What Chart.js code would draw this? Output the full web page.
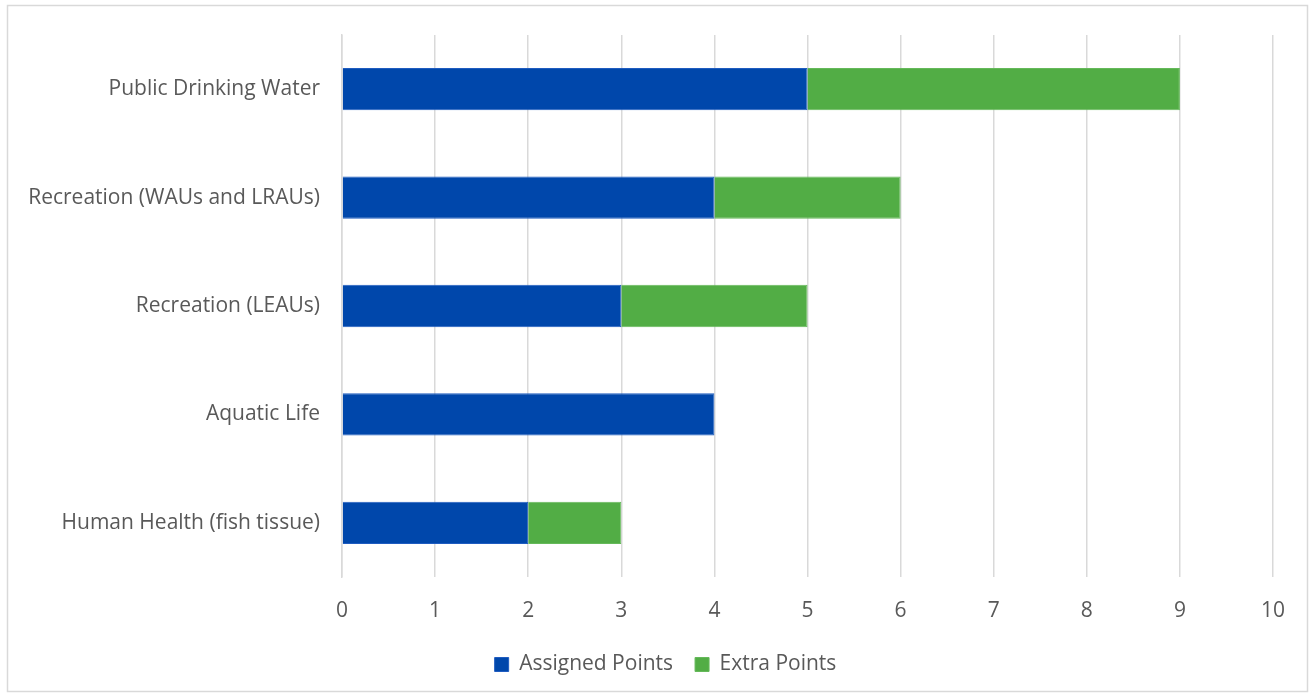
<!DOCTYPE html>
<html lang="en">
<head>
<meta charset="UTF-8" />
<title>Points by Use</title>
<script src="https://cdn.jsdelivr.net/npm/chart.js"></script>
<style>
  body { margin: 0; background: #fff; }
  #wrap { position: relative; width: 1310px; height: 696px; }
</style>
</head>
<body>
<div id="wrap"><canvas id="chart"></canvas></div>
<script>
const categories = [
  "Public Drinking Water",
  "Recreation (WAUs and LRAUs)",
  "Recreation (LEAUs)",
  "Aquatic Life",
  "Human Health (fish tissue)"
];
const assignedPoints = [5, 4, 3, 4, 2];
const extraPoints = [4, 2, 2, 0, 1];

const textColor = "#595959";
const font = { family: "'Open Sans', sans-serif", size: 21 };

// light grey frame round the whole chart
const framePlugin = {
  id: "frame",
  beforeDraw(chart) {
    const c = chart.ctx;
    c.save();
    c.strokeStyle = "#d9d9d9";
    c.lineWidth = 1.5;
    c.strokeRect(7.5, 5.5, 1300, 686);
    c.restore();
  }
};

// legend sits centred on the whole frame, not on the padded box
const legendShift = {
  id: "legendShift",
  afterLayout(chart) {
    if (chart.legend) {
      chart.legend.left += 29;
      chart.legend.right += 29;
    }
  }
};

new Chart(document.getElementById("chart"), {
  type: "bar",
  data: {
    labels: categories,
    datasets: [
      {
        label: "Assigned Points",
        data: assignedPoints,
        backgroundColor: "#0047ab",
        borderColor: "#1f5cc0",
        borderWidth: 1,
        barPercentage: 0.39,
        categoryPercentage: 1
      },
      {
        label: "Extra Points",
        data: extraPoints,
        backgroundColor: "#52ad45",
        borderColor: "#65b95a",
        borderWidth: 1,
        barPercentage: 0.39,
        categoryPercentage: 1
      }
    ]
  },
  options: {
    indexAxis: "y",
    responsive: true,
    maintainAspectRatio: false,
    animation: false,
    layout: { padding: { top: 35, right: 37, left: 0, bottom: 11 } },
    scales: {
      x: {
        stacked: true,
        min: 0,
        max: 10,
        ticks: { stepSize: 1, color: textColor, font: font, padding: 21 },
        grid: { color: "#d9d9d9", lineWidth: 1.5, drawTicks: false },
        border: { display: false },
        afterFit(s) { s.height = 55; }
      },
      y: {
        stacked: true,
        ticks: { color: textColor, font: font, padding: 22 },
        grid: { display: false, drawTicks: false },
        border: { color: "#d9d9d9", width: 1.5 },
        afterFit(s) { s.width = 342; }
      }
    },
    plugins: {
      legend: {
        position: "bottom",
        labels: {
          color: textColor,
          font: font,
          boxWidth: 14,
          boxHeight: 14,
          padding: 22
        }
      },
      tooltip: { enabled: false }
    }
  },
  plugins: [framePlugin, legendShift]
});
</script>
</body>
</html>
